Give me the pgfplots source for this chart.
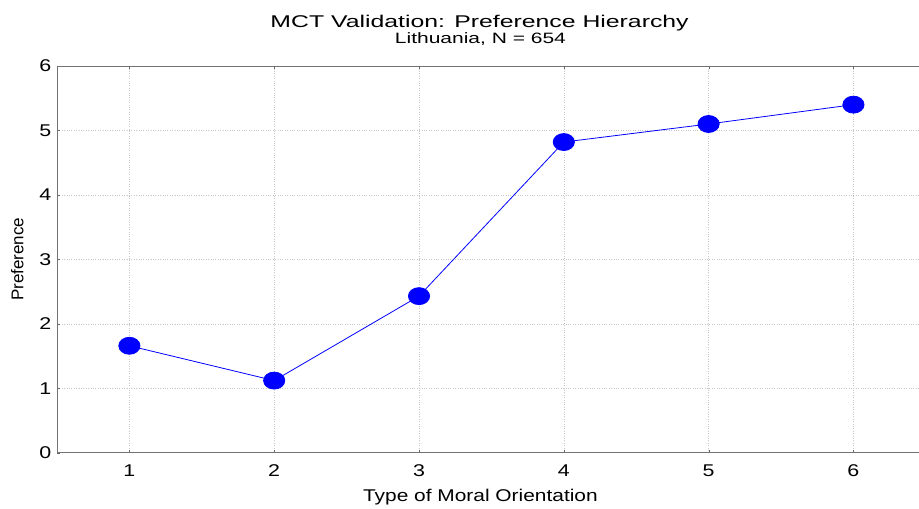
\documentclass[border=0pt]{standalone}
\usepackage{pgfplots}
\pgfplotsset{compat=1.18}
\usepackage{fontspec}
\setmainfont{Liberation Sans}
\definecolor{mblue}{RGB}{0,0,255}
\begin{document}
\begin{tikzpicture}[x=1pt,y=1pt]
\begin{axis}[
  scale only axis,
  width=862pt, height=387pt,
  xmin=0.5, xmax=6.45,
  ymin=0, ymax=6,
  xtick={1,2,3,4,5,6},
  ytick={0,1,2,3,4,5,6},
  axis x line*=box,
  axis y line*=left,
  axis line style={draw=black!55, line width=0.8pt},
  tick style={draw=black!60},
  major tick length=3pt,
  xtick pos=both,
  ytick pos=left,
  tick align=inside,
  grid=major,
  major grid style={draw=black!22, dotted, line width=0.6pt},
  /pgf/number format/assume math mode=true,
  ticklabel style={font=\fontsize{17}{19}\selectfont, xscale=1.26},
  xticklabel style={yshift=-8pt},
  yticklabel style={xshift=-1pt},
  xlabel={Type of Moral Orientation},
  ylabel={Preference},
  xlabel style={font=\fontsize{17}{19}\selectfont, xscale=1.23, yshift=-6pt, xshift=-6pt},
  ylabel style={font=\fontsize{17}{19}\selectfont, yshift=8pt},
  clip=false,
]
\addplot[color=mblue, line width=0.8pt, mark=*, mark options={draw=mblue, fill=mblue, xscale=1.25, yscale=1.0}, mark size=8.5pt]
 coordinates {(1,1.66) (2,1.12) (3,2.43) (4,4.82) (5,5.10) (6,5.40)};
\node[font=\fontsize{17}{19}\selectfont, xscale=1.46, anchor=base] at (rel axis cs:0.4905,1.1) {MCT Validation: Preference Hierarchy};
\node[font=\fontsize{15}{17}\selectfont, xscale=1.4, anchor=base] at (rel axis cs:0.4915,1.058) {Lithuania, N = 654};
\end{axis}
\path[use as bounding box] (-57pt,-53pt) rectangle (862pt,453pt);
\end{tikzpicture}
\end{document}
